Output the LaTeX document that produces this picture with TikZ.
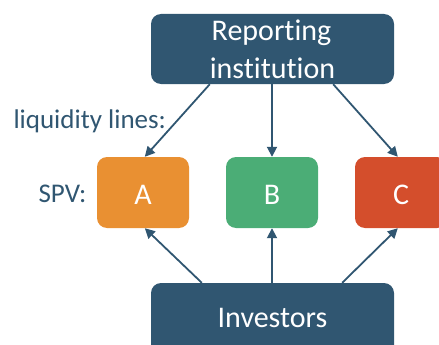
\documentclass[tikz,border=0pt]{standalone}
\usepackage{fontspec}
\setmainfont{Carlito}[Ligatures=NoCommon]
\usetikzlibrary{arrows.meta,calc}
\definecolor{navy}{RGB}{48,86,113}
\definecolor{orng}{RGB}{233,144,50}
\definecolor{grn}{RGB}{75,173,118}
\definecolor{rd}{RGB}{212,78,44}
\begin{document}
\begin{tikzpicture}[x=1pt,y=-1pt,
  box/.style={draw=none, rounded corners=10pt, inner sep=0pt},
  boxtext/.style={anchor=base, white, font=\fontsize{30}{36}\selectfont},
  lbl/.style={anchor=base west, navy, font=\fontsize{27}{32}\selectfont},
  conn/.style={navy, line width=1.8pt, -{Triangle[length=10pt,width=10pt]}}]
\useasboundingbox (0,0) rectangle (439,345);
\clip (0,0) rectangle (439,345);
\node[box, fill=navy, minimum width=243pt, minimum height=70pt] (rep) at (272.5,49) {};
\node[boxtext] (reptxt1) at (271.5,41) {Reporting};
\node[boxtext] (reptxt2) at (272.5,78) {institution};
\node[box, fill=orng, minimum width=92pt, minimum height=71pt] (a) at (143,192.5) {};
\node[box, fill=grn, minimum width=92pt, minimum height=71pt] (b) at (272,192.5) {};
\node[box, fill=rd, minimum width=92pt, minimum height=71pt] (c) at (401,192.5) {};
\node[boxtext] (atxt) at (143,204) {A};
\node[boxtext] (btxt) at (272,204) {B};
\node[boxtext] (ctxt) at (401,204) {C};
\node[box, fill=navy, minimum width=243pt, minimum height=72pt] (inv) at (272.5,319) {};
\node[boxtext] (invtxt) at (272.5,327) {Investors};
\node[lbl] (liq) at (10,128) {liquidity lines:};
\node[lbl] (spv) at (35,202) {SPV:};
\draw[conn] ($(rep.south west)+(59,0)$) -- ($(a.north west)+(48,0)$);
\draw[conn] (b.north |- rep.south) -- (b.north);
\draw[conn] ($(rep.south east)+(-61,0)$) -- ($(c.north west)+(43,0)$);
\draw[conn] ($(inv.north west)+(51,0)$) -- ($(a.south west)+(48,0)$);
\draw[conn] (b.south |- inv.north) -- (b.south);
\draw[conn] ($(inv.north east)+(-52,0)$) -- ($(c.south west)+(43,0)$);
\end{tikzpicture}
\end{document}
